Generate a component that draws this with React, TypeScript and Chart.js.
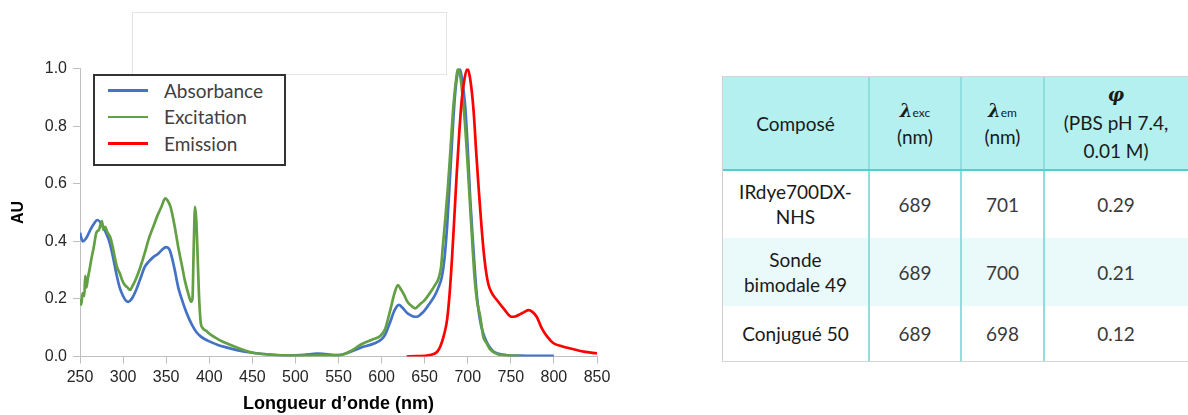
import React, { useEffect, useRef } from "react";
import Chart from "chart.js/auto";

// ---------- data ----------
const xTicks = [250, 300, 350, 400, 450, 500, 550, 600, 650, 700, 750, 800, 850];
const yTicks = [0, 0.2, 0.4, 0.6, 0.8, 1.0];
const seriesNames = ["Absorbance", "Excitation", "Emission"];

const absX = [250, 253, 257, 262, 266, 270, 275, 280, 284, 288, 292, 296, 300, 303, 306, 310, 315, 320, 325, 330, 335, 340, 345, 350, 354, 357, 360, 364, 368, 372, 376, 380, 385, 390, 395, 402, 410, 422, 435, 450, 470, 490, 510, 525, 535, 550, 560, 575, 592, 600, 604, 610, 615, 620, 624, 630, 636, 641, 646, 650, 656, 662, 666, 670, 673, 676, 679, 682, 685, 688, 690.5, 693, 697, 700, 703, 706, 710, 714, 718, 722, 726, 730, 740, 760, 780, 800];
const absY = [0.43, 0.40, 0.41, 0.44, 0.46, 0.474, 0.46, 0.43, 0.40, 0.35, 0.29, 0.24, 0.21, 0.195, 0.19, 0.20, 0.23, 0.27, 0.31, 0.33, 0.345, 0.355, 0.37, 0.38, 0.37, 0.34, 0.30, 0.24, 0.20, 0.165, 0.135, 0.11, 0.085, 0.07, 0.06, 0.05, 0.04, 0.03, 0.02, 0.013, 0.007, 0.004, 0.006, 0.01, 0.008, 0.005, 0.012, 0.03, 0.046, 0.06, 0.075, 0.12, 0.16, 0.179, 0.17, 0.15, 0.14, 0.138, 0.148, 0.16, 0.185, 0.213, 0.24, 0.277, 0.34, 0.45, 0.60, 0.76, 0.90, 0.98, 1.0, 0.97, 0.87, 0.72, 0.54, 0.40, 0.23, 0.13, 0.08, 0.05, 0.03, 0.017, 0.007, 0.003, 0.002, 0.002];

const excX = [250, 251.5, 253, 255, 256, 257.5, 259, 261, 263, 266, 269, 272, 274, 275.5, 277, 279, 282, 285, 288, 290, 293, 296, 299, 302, 305, 308, 311, 315, 320, 325, 330, 335, 340, 344.5, 349, 352, 355, 360, 364, 368, 372, 375.5, 379, 380.5, 382, 383.5, 385, 386.5, 388, 390, 392, 396, 402, 412, 422, 435, 451, 470, 490, 510, 530, 552, 565, 575, 590, 598, 604, 610, 615, 619, 622, 626, 630, 635, 639, 644, 650, 656, 662, 666, 669, 671, 674, 677, 680, 683, 686, 689, 692, 695, 697, 700, 703, 706, 708, 710.6, 714.5, 718, 722, 726, 734, 745, 761];
const excY = [0.20, 0.18, 0.22, 0.21, 0.28, 0.24, 0.27, 0.30, 0.335, 0.38, 0.43, 0.44, 0.46, 0.47, 0.44, 0.45, 0.43, 0.415, 0.38, 0.35, 0.31, 0.29, 0.265, 0.248, 0.24, 0.231, 0.245, 0.27, 0.31, 0.358, 0.41, 0.45, 0.49, 0.52, 0.549, 0.54, 0.52, 0.45, 0.38, 0.32, 0.26, 0.22, 0.19, 0.20, 0.38, 0.52, 0.47, 0.35, 0.22, 0.12, 0.10, 0.09, 0.075, 0.057, 0.043, 0.028, 0.013, 0.007, 0.004, 0.003, 0.004, 0.005, 0.02, 0.04, 0.06, 0.07, 0.095, 0.16, 0.22, 0.248, 0.235, 0.215, 0.19, 0.175, 0.167, 0.18, 0.196, 0.22, 0.248, 0.27, 0.31, 0.38, 0.48, 0.59, 0.72, 0.856, 0.95, 1.0, 0.96, 0.87, 0.80, 0.66, 0.51, 0.36, 0.27, 0.196, 0.138, 0.069, 0.046, 0.025, 0.009, 0.004, 0.002];

const emX = [629, 640, 656, 664, 668, 672, 676, 679, 681.6, 684, 687, 690, 693, 696, 699.7, 703, 706.7, 710, 713, 716, 718.3, 721, 724, 728, 733.8, 741.5, 751, 756, 760.9, 766, 770.5, 775, 780, 786, 792, 799.6, 810, 819, 834.5, 850];
const emY = [0.0, 0.001, 0.005, 0.015, 0.034, 0.07, 0.127, 0.22, 0.335, 0.46, 0.624, 0.77, 0.89, 0.96, 1.0, 0.96, 0.856, 0.70, 0.57, 0.45, 0.37, 0.30, 0.25, 0.22, 0.196, 0.167, 0.138, 0.14, 0.147, 0.155, 0.161, 0.155, 0.138, 0.098, 0.07, 0.046, 0.035, 0.028, 0.017, 0.011];

const seriesColors = ["#4472C4", "#62A043", "#FF0000"];

// table
const tableHeaders = ["Composé", "exc", "em", "(PBS pH 7.4, 0.01 M)"];
const compounds = [["IRdye700DX-", "NHS"], ["Sonde", "bimodale 49"], ["Conjugué 50"]];
const lambdaExc = ["689", "689", "689"];
const lambdaEm = ["701", "700", "698"];
const quantumYield = ["0.29", "0.21", "0.12"];

const toPts = (xs: number[], ys: number[]) => xs.map((x, i) => ({ x, y: ys[i] }));

const CW = 620;
const CH = 415;

function SpectraChart() {
  const ref = useRef<HTMLCanvasElement | null>(null);
  useEffect(() => {
    if (!ref.current) return;
    const mk = (i: number, xs: number[], ys: number[], order: number) => ({
      label: seriesNames[i],
      data: toPts(xs, ys),
      borderColor: seriesColors[i],
      backgroundColor: seriesColors[i],
      borderWidth: 2.7,
      pointRadius: 0,
      cubicInterpolationMode: "monotone" as const,
      fill: false,
      order,
    });
    const chart = new Chart(ref.current, {
      type: "line",
      data: {
        datasets: [mk(0, absX, absY, 2), mk(1, excX, excY, 1), mk(2, emX, emY, 0)],
      },
      options: {
        animation: false,
        responsive: false,
        devicePixelRatio: 1,
        layout: { padding: { left: 0, right: CW - 597, top: 68.5, bottom: 0 } },
        plugins: { legend: { display: false }, tooltip: { enabled: false } },
        scales: {
          x: {
            type: "linear",
            min: 250,
            max: 850,
            afterFit: (s: any) => { s.height = CH - 356.5; },
            afterBuildTicks: (s: any) => { s.ticks = xTicks.map((v) => ({ value: v })); },
            ticks: {
              autoSkip: false,
              maxRotation: 0,
              padding: 4,
              color: "#262626",
              font: { family: "'Liberation Sans', Arial, sans-serif", size: 16 },
            },
            grid: { display: true, drawOnChartArea: false, drawTicks: true, tickLength: 7, color: "#bfbfbf" },
            border: { color: "#bfbfbf", width: 1 },
            title: {
              display: true,
              text: "Longueur d’onde (nm)",
              color: "#000",
              font: { family: "'Liberation Sans', Arial, sans-serif", size: 18, weight: "bold" },
              padding: { top: 0, bottom: 0 },
            },
          },
          y: {
            type: "linear",
            min: 0,
            max: 1,
            afterFit: (s: any) => { s.width = 80; },
            afterBuildTicks: (s: any) => { s.ticks = yTicks.map((v) => ({ value: v })); },
            ticks: {
              padding: 6,
              color: "#262626",
              font: { family: "'Liberation Sans', Arial, sans-serif", size: 16 },
              callback: (v: any) => Number(v).toFixed(1),
            },
            grid: { display: true, drawOnChartArea: false, drawTicks: true, tickLength: 7, color: "#bfbfbf" },
            border: { color: "#bfbfbf", width: 1 },
            title: {
              display: true,
              text: "AU",
              color: "#000",
              font: { family: "'Liberation Sans', Arial, sans-serif", size: 16, weight: "bold" },
              padding: { top: 9, bottom: 0 },
            },
          },
        },
      },
    });
    return () => chart.destroy();
  }, []);
  return (
    <canvas
      ref={ref}
      width={CW}
      height={CH}
      style={{ position: "absolute", left: 0, top: 0, width: CW, height: CH, display: "block" }}
    />
  );
}

const tableFont = "Lato, 'Open Sans', sans-serif";
const colLefts = [722, 869, 961, 1044, 1188];
const rowTops = [76, 170, 238, 306, 361];

function Legend() {
  return (
    <div
      style={{
        position: "absolute",
        left: 93,
        top: 74,
        width: 189,
        height: 88,
        border: "2px solid #333",
        background: "#fff",
        fontFamily: tableFont,
        fontSize: 19,
        color: "#404040",
      }}
    >
      {seriesNames.map((n, i) => (
        <div key={n} style={{ position: "absolute", left: 0, top: 1.5 + i * 26.7, height: 26, width: "100%" }}>
          <div style={{ position: "absolute", left: 13, top: 11.5, width: 40, height: 2.6, background: seriesColors[i] }} />
          <div style={{ position: "absolute", left: 69, top: 0, lineHeight: "26px", whiteSpace: "nowrap" }}>{n}</div>
        </div>
      ))}
    </div>
  );
}

function Cell(props: { c: number; r: number; bg?: string; children: any; color?: string; lh?: number }) {
  const { c, r, bg, children, color, lh } = props;
  return (
    <div
      style={{
        position: "absolute",
        left: colLefts[c],
        top: rowTops[r],
        width: colLefts[c + 1] - colLefts[c],
        height: rowTops[r + 1] - rowTops[r],
        background: bg || "transparent",
        display: "flex",
        flexDirection: "column",
        alignItems: "center",
        justifyContent: "center",
        textAlign: "center",
        fontFamily: tableFont,
        fontSize: 19,
        lineHeight: `${lh || 25}px`,
        color: color || "#1a1a1a",
        boxSizing: "border-box",
      }}
    >
      {children}
    </div>
  );
}

function DataTable() {
  const headBg = "#b3f0ef";
  const rowBgs = ["#ffffff", "#eafafa", "#ffffff"];
  const greek = { fontFamily: "'DejaVu Serif', serif", fontWeight: 700, fontStyle: "italic" as const, fontSize: 18 };
  return (
    <div style={{ position: "absolute", left: 0, top: 0 }}>
      {/* header */}
      <Cell c={0} r={0} bg={headBg}>{tableHeaders[0]}</Cell>
      <Cell c={1} r={0} bg={headBg} lh={24}>
        <div><span style={greek}>λ</span><span style={{ fontSize: 12 }}>{tableHeaders[1]}</span></div>
        <div>(nm)</div>
      </Cell>
      <Cell c={2} r={0} bg={headBg} lh={24}>
        <div><span style={greek}>λ</span><span style={{ fontSize: 12 }}>{tableHeaders[2]}</span></div>
        <div>(nm)</div>
      </Cell>
      <Cell c={3} r={0} bg={headBg} lh={28}>
        <div style={greek}>φ</div>
        <div>(PBS pH 7.4,</div>
        <div>0.01 M)</div>
      </Cell>
      {compounds.map((name, i) => (
        <React.Fragment key={i}>
          <Cell c={0} r={i + 1} bg={rowBgs[i]}>
            {name.map((l) => (<div key={l}>{l}</div>))}
          </Cell>
          <Cell c={1} r={i + 1} bg={rowBgs[i]} color="#3a3a3a">{lambdaExc[i]}</Cell>
          <Cell c={2} r={i + 1} bg={rowBgs[i]} color="#3a3a3a">{lambdaEm[i]}</Cell>
          <Cell c={3} r={i + 1} bg={rowBgs[i]} color="#3a3a3a">{quantumYield[i]}</Cell>
        </React.Fragment>
      ))}
      {/* vertical column lines */}
      {[1, 2, 3].map((c) => (
        <div key={c} style={{ position: "absolute", left: colLefts[c] - 1, top: rowTops[0], width: 2, height: rowTops[4] - rowTops[0], background: "#8fdede" }} />
      ))}
      {/* header bottom */}
      <div style={{ position: "absolute", left: colLefts[0], top: rowTops[1] - 1, width: colLefts[4] - colLefts[0], height: 2, background: "#55cccc" }} />
      {/* outer border */}
      <div style={{ position: "absolute", left: colLefts[0], top: rowTops[0], width: colLefts[4] - colLefts[0], height: 1, background: "#d6d6d6" }} />
      <div style={{ position: "absolute", left: colLefts[0], top: rowTops[0], width: 1, height: rowTops[4] - rowTops[0], background: "#cfcfcf" }} />
      <div style={{ position: "absolute", left: colLefts[0], top: rowTops[4], width: colLefts[4] - colLefts[0], height: 1, background: "#d6d6d6" }} />
    </div>
  );
}

export default function App() {
  return (
    <div style={{ position: "absolute", left: 0, top: 0, width: 1188, height: 415, background: "#fff", overflow: "hidden" }}>
      <div style={{ position: "absolute", left: 132, top: 12, width: 315, height: 63, border: "1px solid #e4e4e4", boxSizing: "border-box" }} />
      <SpectraChart />
      <Legend />
      <DataTable />
    </div>
  );
}
